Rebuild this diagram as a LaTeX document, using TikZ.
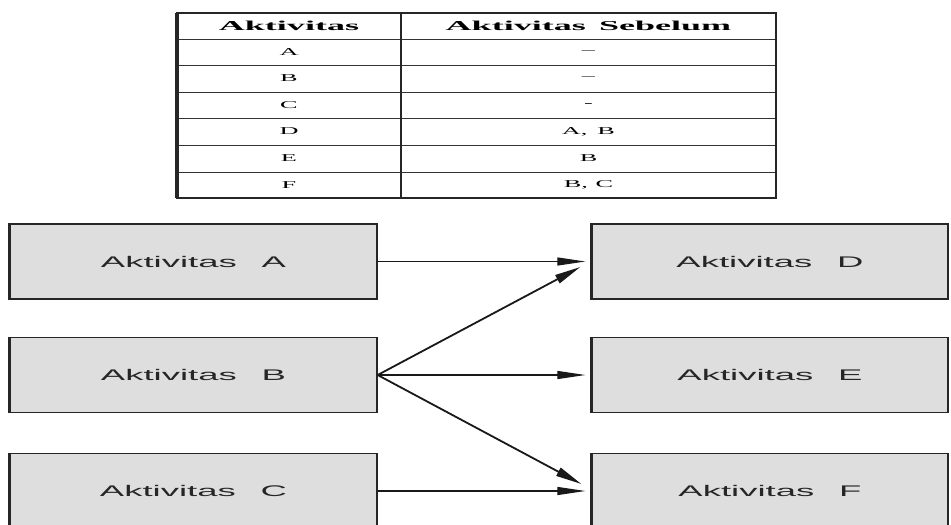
\documentclass[tikz,border=0pt]{standalone}
\usepackage{fontspec}
\usepackage{graphicx}
\usetikzlibrary{arrows.meta}
\newfontfamily\boxfont{Liberation Sans}
\newfontfamily\tabfont{Liberation Serif}
\newcommand{\bxt}[1]{\scalebox{2.37}[1]{#1}}
\newcommand{\tht}[1]{\scalebox{2.65}[1]{#1}}
\newcommand{\tbt}[1]{\scalebox{2.5}[1]{#1}}
\tikzset{
  box/.style={draw=black!85, line width=1.3pt, fill=black!13, minimum height=75pt, inner sep=0pt,
    font=\boxfont\fontsize{15.4}{17}\selectfont, text=black!85},
  leftedge/.style={line width=3pt, draw=black!85},
  arr/.style={-{Triangle[length=28pt,width=8pt]}, line width=1.2pt, draw=black!90},
  darr/.style={-{Triangle[length=26pt,width=9pt]}, line width=1.8pt, draw=black!90},
  cellhead/.style={font=\tabfont\bfseries\fontsize{13.6}{15}\selectfont, inner sep=0pt},
  cell/.style={font=\tabfont\fontsize{10.5}{12}\selectfont, inner sep=0pt},
  tabline/.style={line width=0.9pt, draw=black!80},
}
\begin{document}
\begin{tikzpicture}[x=1pt,y=-1pt]
\useasboundingbox (0,0) rectangle (951,525);
\fill[white] (0,0) rectangle (951,525);
% table
\foreach \yy in {39,65,92,118,145,172} \draw[tabline] (177,\yy) -- (776,\yy);
\draw[line width=1.4pt, draw=black!85] (177,13) rectangle (776,198);
\draw[line width=1.6pt, draw=black!85] (401,13) -- (401,198);
\draw[line width=3.5pt, draw=black!85] (177,13) -- (177,198);
\node[cellhead] (h1) at (289,26) {\tht{Aktivitas}};
\node[cellhead] (h2) at (588.5,26) {\tht{Aktivitas\hspace{5pt}Sebelum}};
\node[cell] (ra) at (289,52) {\tbt{A}};
\node[cell] (rb) at (289,78.5) {\tbt{B}};
\node[cell] (rc) at (289,105) {\tbt{C}};
\node[cell] (rd) at (289,131.5) {\tbt{D}};
\node[cell] (re) at (289,158.5) {\tbt{E}};
\node[cell] (rf) at (289,185) {\tbt{F}};
\node[cell] (pa) at (588.5,52) {\tbt{–}};
\node[cell] (pb) at (588.5,78.5) {\tbt{–}};
\node[cell] (pc) at (588.5,105) {\tbt{-}};
\node[cell] (pd) at (588.5,131.5) {\tbt{A,\hspace{4pt}B}};
\node[cell] (pe) at (588.5,158.5) {\tbt{B}};
\node[cell] (pf) at (588.5,185) {\tbt{B,\hspace{3pt}C}};
% boxes
\node[box, minimum width=367pt] (A) at (193.5,261.5) {\bxt{Aktivitas\hspace{10.5pt}A}};
\node[box, minimum width=367pt] (B) at (193.5,375) {\bxt{Aktivitas\hspace{10.5pt}B}};
\node[box, minimum width=367pt] (C) at (193.5,491) {\bxt{Aktivitas\hspace{10.5pt}C}};
\node[box, minimum width=356pt] (D) at (770,261.5) {\bxt{Aktivitas\hspace{10.5pt}D}};
\node[box, minimum width=356pt] (E) at (770,375) {\bxt{Aktivitas\hspace{10.5pt}E}};
\node[box, minimum width=356pt] (F) at (770,491) {\bxt{Aktivitas\hspace{10.5pt}F}};
\foreach \n in {A,B,C,D,E,F} \draw[leftedge] (\n.north west) -- (\n.south west);
% connectors
\draw[arr] (A.east) -- ([xshift=-6pt]D.west);
\draw[arr] (B.east) -- ([xshift=-6pt]E.west);
\draw[arr] (C.east) -- ([xshift=-6pt]F.west);
\draw[darr] (B.east) -- ([xshift=-11pt,yshift=-5.5pt]D.west);
\draw[darr] (B.east) -- ([xshift=-10pt,yshift=7pt]F.west);
\end{tikzpicture}
\end{document}
